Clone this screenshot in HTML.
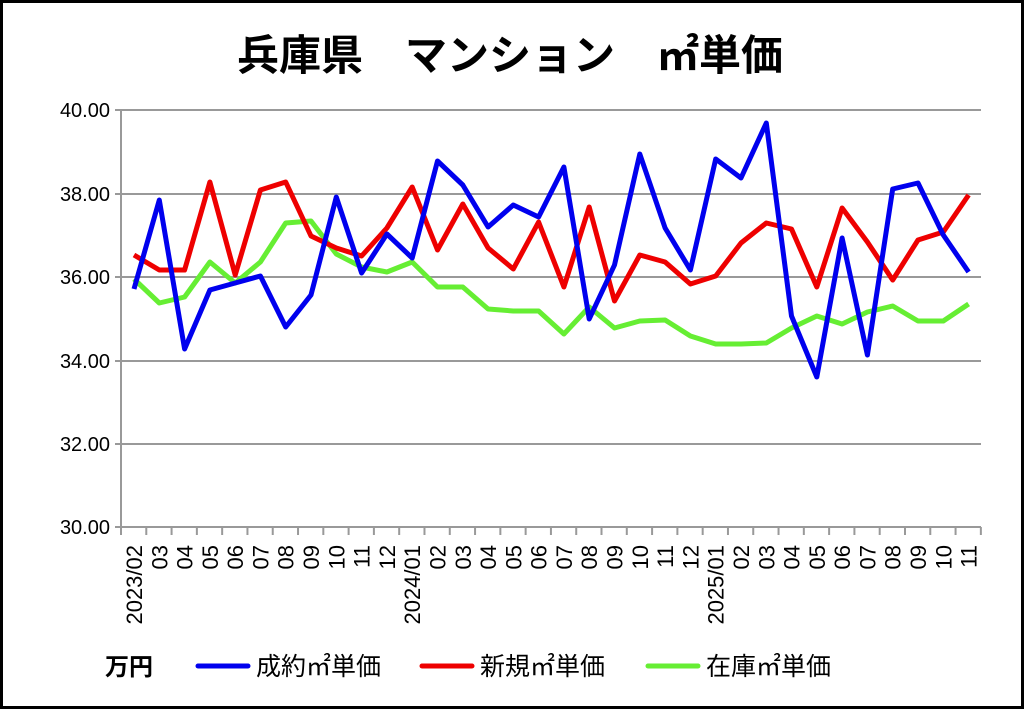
<!DOCTYPE html>
<html><head><meta charset="utf-8"><style>
html,body{margin:0;padding:0;background:#fff}
svg{display:block}
text{font-family:"Liberation Sans","Noto Sans CJK JP",sans-serif}
</style></head><body>
<svg width="1024" height="709" viewBox="0 0 1024 709" xmlns="http://www.w3.org/2000/svg">
<rect x="1.5" y="1.5" width="1021" height="706" fill="#fff" stroke="#000" stroke-width="3"/>
<text x="510" y="70" text-anchor="middle" font-size="42" font-weight="bold" font-family="Noto Sans CJK JP, sans-serif">兵庫県　マンション　㎡単価</text>
<g stroke="#999" stroke-width="2">
<line x1="115" y1="110" x2="981" y2="110"/>
<line x1="115" y1="194" x2="981" y2="194"/>
<line x1="115" y1="277" x2="981" y2="277"/>
<line x1="115" y1="361" x2="981" y2="361"/>
<line x1="115" y1="444" x2="981" y2="444"/>
<line x1="115" y1="527" x2="981" y2="527"/>
<line x1="121" y1="110" x2="121" y2="535"/>
</g>
<g stroke="#999" stroke-width="2" id="ticks"></g>
<g font-size="20" text-anchor="end" fill="#000">
<text x="110" y="117">40.00</text>
<text x="110" y="201">38.00</text>
<text x="110" y="284">36.00</text>
<text x="110" y="368">34.00</text>
<text x="110" y="451">32.00</text>
<text x="110" y="534">30.00</text>
</g>
<g id="xl" font-size="22" text-anchor="end" fill="#000"></g>
<g fill="none" stroke-width="5" stroke-linejoin="round">
<polyline id="g" stroke="#66ee33"/>
<polyline id="r" stroke="#ee0000"/>
<polyline id="b" stroke="#0000ee"/>
</g>
<text x="105" y="675" font-size="24" font-weight="bold" font-family="Noto Sans CJK JP, sans-serif">万円</text>
<line x1="198" y1="666" x2="248" y2="666" stroke="#0000ee" stroke-width="5" stroke-linecap="round"/>
<text x="256" y="675" font-size="25" font-family="Noto Sans CJK JP, sans-serif">成約㎡単価</text>
<line x1="422" y1="666" x2="472" y2="666" stroke="#ee0000" stroke-width="5" stroke-linecap="round"/>
<text x="480" y="675" font-size="25" font-family="Noto Sans CJK JP, sans-serif">新規㎡単価</text>
<line x1="648" y1="666" x2="698" y2="666" stroke="#66ee33" stroke-width="5" stroke-linecap="round"/>
<text x="706" y="675" font-size="25" font-family="Noto Sans CJK JP, sans-serif">在庫㎡単価</text>
<script>
var B=[289,200,349,290,283,276,327,295,197,273,234,258,161,185,227,205,217,167,319,265,154,228,270,159,178,123,316,377,238,355,189,183,235,272];
var R=[255,270,270,182,275,190,182,236,248,256,228,187,250,204,248,269,222,287,207,301,255,262,284,276,243,223,229,287,208,242,280,240,232,195];
var G=[279,303,297,262,283,262,223,221,254,267,272,262,287,287,309,311,311,334,307,328,321,320,336,344,344,343,328,316,324,312,306,321,321,304];
function pts(a){return a.map(function(y,i){return (134+25.29*i).toFixed(1)+","+y}).join(" ");}
document.getElementById("b").setAttribute("points",pts(B));
document.getElementById("r").setAttribute("points",pts(R));
document.getElementById("g").setAttribute("points",pts(G));
var ns="http://www.w3.org/2000/svg",t=document.getElementById("ticks"),xl=document.getElementById("xl");
for(var k=0;k<=34;k++){var l=document.createElementNS(ns,"line");var x=121+25.29*k;l.setAttribute("x1",x);l.setAttribute("x2",x);l.setAttribute("y1",527);l.setAttribute("y2",535);t.appendChild(l);}
var labs=["2023/02","03","04","05","06","07","08","09","10","11","12","2024/01","02","03","04","05","06","07","08","09","10","11","12","2025/01","02","03","04","05","06","07","08","09","10","11"];
labs.forEach(function(s,i){var x=134+25.29*i+8;var e=document.createElementNS(ns,"text");e.setAttribute("transform","translate("+x+",545) rotate(-90)");e.setAttribute("x",0);e.setAttribute("y",0);e.textContent=s;xl.appendChild(e);});
</script>
</svg>
</body></html>
